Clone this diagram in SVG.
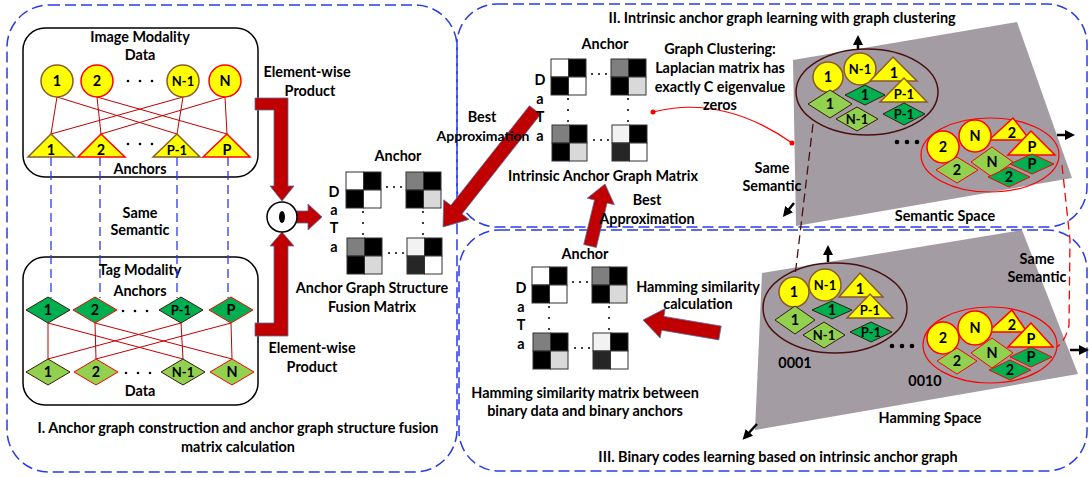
<svg xmlns="http://www.w3.org/2000/svg" xmlns:xlink="http://www.w3.org/1999/xlink" width="1091" height="478" viewBox="0 0 1091 478">
<style>
.t{font-family:Lato,'Liberation Sans',sans-serif;font-weight:bold;font-size:14.4px;fill:#000;text-anchor:middle}
.s{font-size:13px}
.panel{fill:none;stroke:#2a3be8;stroke-width:1.5;stroke-dasharray:11 5}
.box{fill:#fff;stroke:#000;stroke-width:1.5}
.ylb{fill:#ffff00;stroke:#8b5a2b;stroke-width:1.5}
.ylr{fill:#ffff00;stroke:#ff0000;stroke-width:1.5}
.dgb{fill:#00b050;stroke:#3a1a0a;stroke-width:1}
.dgr{fill:#00b050;stroke:#ff0000;stroke-width:1}
.lgb{fill:#92d050;stroke:#3a1a0a;stroke-width:1}
.lgr{fill:#92d050;stroke:#ff0000;stroke-width:1}
.edge{stroke:#c00000;stroke-width:1;fill:none}
.blue{stroke:#2a3be8;stroke-width:1.3;stroke-dasharray:9 5;fill:none}
.bar{fill:#c00000;stroke:#5470a0;stroke-width:0.8}
.plane{fill:#a39ca3}
.cb{fill:none;stroke:#4a1010;stroke-width:1.5}
.cr{fill:none;stroke:#ff0000;stroke-width:1.2}
.ax{stroke:#000;stroke-width:2.5;fill:none}
.dot{fill:#000}
</style>
<defs>
<marker id="ah" markerWidth="10" markerHeight="10" refX="5" refY="5" orient="auto" markerUnits="userSpaceOnUse"><path d="M0,0 L10,5 L0,10 Z" fill="#000"/></marker>
<g id="mat" stroke="#333" stroke-width="1">
<rect x="0" y="0" width="17.5" height="18" fill="#fff"/><rect x="17.5" y="0" width="17.5" height="18" fill="#000"/><rect x="0" y="18" width="17.5" height="18" fill="#000"/><rect x="17.5" y="18" width="17.5" height="18" fill="#fff"/>
<rect x="60" y="0" width="17.5" height="18" fill="#7f7f7f"/><rect x="77.5" y="0" width="17.5" height="18" fill="#000"/><rect x="60" y="18" width="17.5" height="18" fill="#000"/><rect x="77.5" y="18" width="17.5" height="18" fill="#d9d9d9"/>
<rect x="1" y="66" width="17.5" height="18" fill="#7f7f7f"/><rect x="18.5" y="66" width="17.5" height="18" fill="#000"/><rect x="1" y="84" width="17.5" height="18" fill="#000"/><rect x="18.5" y="84" width="17.5" height="18" fill="#d9d9d9"/>
<rect x="61" y="66" width="17.5" height="18" fill="#f2f2f2"/><rect x="78.5" y="66" width="17.5" height="18" fill="#000"/><rect x="61" y="84" width="17.5" height="18" fill="#262626"/><rect x="78.5" y="84" width="17.5" height="18" fill="#fff"/>
<g stroke="none" fill="#000">
<circle cx="41" cy="15" r="1"/><circle cx="48" cy="15" r="1"/><circle cx="55" cy="15" r="1"/>
<circle cx="43" cy="81" r="1"/><circle cx="50" cy="81" r="1"/><circle cx="57" cy="81" r="1"/>
<circle cx="17" cy="40" r="1"/><circle cx="17" cy="51" r="1"/><circle cx="17" cy="62" r="1"/>
<circle cx="77" cy="40" r="1"/><circle cx="77" cy="51" r="1"/><circle cx="77" cy="62" r="1"/>
</g>
</g>
</defs>
<rect width="1091" height="478" fill="#fff"/>

<g id="panels">
<rect class="panel" x="7" y="5" width="450" height="467" rx="42"/>
<rect class="panel" x="457" y="4" width="630" height="223" rx="40"/>
<rect class="panel" x="459" y="230" width="628" height="241" rx="40"/>
</g>

<!-- Panel I -->
<g id="image-modality">
<rect class="box" x="23" y="28" width="235" height="149" rx="22"/>
<text class="t" x="140" y="42">Image Modality</text>
<text class="t" x="140" y="60">Data</text>
<text class="t" x="140" y="174">Anchors</text>
</g>
<g id="tag-modality">
<rect class="box" x="23" y="257" width="235" height="148" rx="22"/>
<text class="t" x="140" y="275">Tag Modality</text>
<text class="t" x="140" y="296">Anchors</text>
<text class="t" x="140" y="396">Data</text>
</g>

<g id="connectors">
<line class="edge" x1="57" y1="97" x2="51" y2="134"/>
<line class="edge" x1="57" y1="97" x2="177" y2="134"/>
<line class="edge" x1="97" y1="97" x2="101" y2="134"/>
<line class="edge" x1="97" y1="97" x2="227" y2="134"/>
<line class="edge" x1="183" y1="97" x2="177" y2="134"/>
<line class="edge" x1="183" y1="97" x2="51" y2="134"/>
<line class="edge" x1="225" y1="97" x2="227" y2="134"/>
<line class="edge" x1="225" y1="97" x2="101" y2="134"/>
<line class="edge" x1="48" y1="323" x2="48" y2="359"/>
<line class="edge" x1="48" y1="323" x2="183" y2="359"/>
<line class="edge" x1="95" y1="323" x2="96" y2="359"/>
<line class="edge" x1="95" y1="323" x2="232" y2="359"/>
<line class="edge" x1="181" y1="323" x2="183" y2="359"/>
<line class="edge" x1="181" y1="323" x2="48" y2="359"/>
<line class="edge" x1="231" y1="323" x2="232" y2="359"/>
<line class="edge" x1="231" y1="323" x2="96" y2="359"/>
<line class="blue" x1="51" y1="157" x2="51" y2="298"/>
<line class="blue" x1="100" y1="157" x2="100" y2="298"/>
<line class="blue" x1="177" y1="157" x2="177" y2="298"/>
<line class="blue" x1="228" y1="157" x2="228" y2="298"/>
<polygon class="bar" points="255,98 288,98 288,186 294,186 282,201 270,186 274,186 274,110 255,110"/>
<polygon class="bar" points="255,336 288,336 288,246 294,246 282,232 270,246 274,246 274,323 255,323"/>
<polygon class="bar" points="296,211 308,211 308,204 322,217 308,230 308,223 296,223"/>
<polygon class="bar" points="540.6,114.3 462,213.9 469.1,219.4 443,227 443.7,199.8 450.9,205.3 529.4,105.7"/>
<polygon class="bar" points="596.3,247.5 607.1,203 614.4,204.8 605,184 587.2,198.2 594.5,200 583.7,244.5"/>
<polygon class="bar" points="721.2,326.1 663.9,316.4 665.2,308.5 643,320 660.2,338.1 661.5,330.2 718.8,339.9"/>
<path d="M653,112 C700,100 745,110 792,143" fill="none" stroke="#ff0000" stroke-width="1.2"/>
<circle cx="653" cy="112" r="2.5" fill="#ff0000"/>
<circle cx="792" cy="143" r="2.5" fill="#ff0000"/>
</g>

<g id="image-data">
<circle class="ylb" cx="57" cy="81" r="16"/><text class="t" x="57" y="86">1</text>
<circle class="ylr" cx="97" cy="81" r="16"/><text class="t" x="97" y="86">2</text>
<circle class="ylb" cx="183" cy="81" r="16"/><text class="t s" x="183" y="86">N-1</text>
<circle class="ylr" cx="225" cy="81" r="16"/><text class="t" x="225" y="86">N</text>
<circle class="dot" cx="128" cy="81" r="1.3"/><circle class="dot" cx="140" cy="81" r="1.3"/><circle class="dot" cx="152" cy="81" r="1.3"/>
</g>
<g id="image-anchors">
<polygon class="ylb" points="28,157 75,157 51,134"/><text class="t" x="51" y="155">1</text>
<polygon class="ylr" points="78,157 125,157 101,134"/><text class="t" x="101" y="155">2</text>
<polygon class="ylb" points="153,157 200,157 177,134"/><text class="t s" x="177" y="155">P-1</text>
<polygon class="ylr" points="203,157 250,157 227,134"/><text class="t" x="227" y="155">P</text>
<circle class="dot" cx="128" cy="144" r="1.3"/><circle class="dot" cx="140" cy="144" r="1.3"/><circle class="dot" cx="152" cy="144" r="1.3"/>
</g>
<g id="tag-anchors">
<polygon class="dgb" points="26,310 48,297 70,310 48,323"/><text class="t" x="48" y="315">1</text>
<polygon class="dgr" points="73,310 95,297 117,310 95,323"/><text class="t" x="95" y="315">2</text>
<polygon class="dgb" points="159,310 181,297 203,310 181,323"/><text class="t s" x="181" y="315">P-1</text>
<polygon class="dgr" points="209,310 231,297 253,310 231,323"/><text class="t" x="231" y="315">P</text>
<circle class="dot" cx="123" cy="311" r="1.3"/><circle class="dot" cx="135" cy="311" r="1.3"/><circle class="dot" cx="147" cy="311" r="1.3"/>
</g>
<g id="tag-data">
<polygon class="lgb" points="26,372 48,359 70,372 48,385"/><text class="t" x="48" y="377">1</text>
<polygon class="lgr" points="74,372 96,359 118,372 96,385"/><text class="t" x="96" y="377">2</text>
<polygon class="lgb" points="161,372 183,359 205,372 183,385"/><text class="t s" x="183" y="377">N-1</text>
<polygon class="lgr" points="210,372 232,359 254,372 232,385"/><text class="t" x="232" y="377">N</text>
<circle class="dot" cx="126" cy="373" r="1.3"/><circle class="dot" cx="138" cy="373" r="1.3"/><circle class="dot" cx="150" cy="373" r="1.3"/>
</g>
<g id="labels-I">
<text class="t" x="140" y="218">Same</text>
<text class="t" x="140" y="235">Semantic</text>
<text class="t" x="307" y="77">Element-wise</text>
<text class="t" x="310" y="96">Product</text>
<text class="t" x="312" y="353">Element-wise</text>
<text class="t" x="312" y="372">Product</text>
<text class="t" x="238" y="433">I. Anchor graph construction and anchor graph structure fusion</text>
<text class="t" x="238" y="452">matrix calculation</text>
</g>
<g id="elementwise-op">
<circle cx="282" cy="217" r="15" fill="#fff" stroke="#000" stroke-width="1.5"/>
<ellipse cx="282" cy="217" rx="3" ry="6" fill="#000"/>
</g>
<g id="fusion-matrix">
<use xlink:href="#mat" href="#mat" x="346" y="172"/>
<text class="t" x="398" y="161">Anchor</text>
<text class="t" x="334" y="197">D</text><text class="t" x="334" y="215">a</text><text class="t" x="334" y="233">T</text><text class="t" x="334" y="252">a</text>
<text class="t" x="372" y="293">Anchor Graph Structure</text>
<text class="t" x="372" y="312">Fusion  Matrix</text>
</g>

<g id="labels-II">
<text class="t" x="482" y="122">Best</text>
<text class="t" x="483" y="141" font-size="14" style="font-size:14px">Approximation</text>
<text class="t" x="782" y="23">II. Intrinsic anchor graph learning with graph clustering</text>
<text class="t" x="720" y="54">Graph Clustering:</text>
<text class="t" x="720" y="73">Laplacian matrix has</text>
<text class="t" x="720" y="92">exactly C eigenvalue</text>
<text class="t" x="720" y="110">zeros</text>
<text class="t" x="647" y="205">Best</text>
<text class="t" x="647" y="224">Approximation</text>
</g>
<g id="intrinsic-matrix">
<use xlink:href="#mat" href="#mat" x="551" y="59"/>
<text class="t" x="605" y="49">Anchor</text>
<text class="t" x="540" y="85">D</text><text class="t" x="540" y="104">a</text><text class="t" x="540" y="122">T</text><text class="t" x="540" y="141">a</text>
<text class="t" x="603" y="181">Intrinsic Anchor Graph Matrix</text>
</g>
<g id="semantic-space">
<polygon class="plane" points="793,60 1017,22 1072,178 796,226"/>
<line class="ax" x1="858" y1="50" x2="858" y2="40" marker-end="url(#ah)"/>
<line class="ax" x1="1057" y1="135" x2="1070" y2="135" marker-end="url(#ah)"/>
<line class="ax" x1="794" y1="203" x2="786" y2="213" marker-end="url(#ah)"/>
<text class="t" x="945" y="221">Semantic Space</text>
<text class="t" x="772" y="173">Same</text>
<text class="t" x="772" y="191">Semantic</text>
</g>
<g id="semantic-cluster-1">
<ellipse class="cb" cx="867" cy="92" rx="71" ry="43"/>
<circle class="ylb" cx="828" cy="77" r="15"/><text class="t" x="828" y="82">1</text>
<circle class="ylb" cx="860" cy="69" r="16"/><text class="t s" x="860" y="74">N-1</text>
<polygon class="ylb" points="870,81 917,81 893,57"/><text class="t" x="894" y="78">1</text>
<polygon class="dgb" points="845,95 865,85 885,95 865,105"/><text class="t" x="865" y="100">1</text>
<polygon class="ylb" points="880,102 927,102 904,78"/><text class="t s" x="904" y="99">P-1</text>
<polygon class="lgb" points="808,104 830,90 852,104 830,118"/><text class="t" x="830" y="109">1</text>
<polygon class="lgb" points="836,119 857,107 878,119 857,131"/><text class="t s" x="857" y="124">N-1</text>
<polygon class="dgb" points="883,114 904,103 925,114 904,125"/><text class="t s" x="904" y="119">P-1</text>
</g>
<g id="semantic-cluster-2">
<ellipse class="cr" cx="990" cy="155" rx="69" ry="37"/>
<circle class="ylr" cx="943" cy="147" r="16"/><text class="t" x="943" y="152">2</text>
<polygon class="ylr" points="989,140 1030,140 1013,118"/><text class="t" x="1012" y="138">2</text>
<circle class="ylr" cx="975" cy="136" r="16"/><text class="t" x="975" y="141">N</text>
<polygon class="ylr" points="1008,155 1055,155 1031,131"/><text class="t" x="1032" y="152">P</text>
<polygon class="lgr" points="936,170 957,157 978,170 957,183"/><text class="t" x="957" y="175">2</text>
<polygon class="lgr" points="971,162 992,147 1013,162 992,177"/><text class="t" x="992" y="167">N</text>
<polygon class="dgr" points="1010,164 1032,154 1054,164 1032,174"/><text class="t" x="1032" y="169">P</text>
<polygon class="dgr" points="988,177 1009,167 1030,177 1009,187"/><text class="t" x="1009" y="182">2</text>
</g>
<g id="semantic-dots">
<circle class="dot" cx="897" cy="142" r="2.3"/><circle class="dot" cx="907" cy="142" r="2.3"/><circle class="dot" cx="917" cy="142" r="2.3"/>
</g>

<g id="hamming-matrix">
<use xlink:href="#mat" href="#mat" x="532" y="267"/>
<text class="t" x="585" y="259">Anchor</text>
<text class="t" x="521" y="293">D</text><text class="t" x="521" y="312">a</text><text class="t" x="521" y="330">T</text><text class="t" x="521" y="349">a</text>
<text class="t" x="585" y="398">Hamming similarity matrix between</text>
<text class="t" x="585" y="416">binary data and binary anchors</text>
<text class="t" x="698" y="292">Hamming similarity</text>
<text class="t" x="698" y="309">calculation</text>
</g>
<g id="hamming-space">
<polygon class="plane" points="762,273 1022,230 1078,374 755,430"/>
<line class="ax" x1="828" y1="262" x2="828" y2="250" marker-end="url(#ah)"/>
<line class="ax" x1="1070" y1="350" x2="1084" y2="350" marker-end="url(#ah)"/>
<line class="ax" x1="757" y1="424" x2="746" y2="436" marker-end="url(#ah)"/>
<text class="t" x="930" y="423">Hamming Space</text>
<text class="t" x="1037" y="264">Same</text>
<text class="t" x="1037" y="282">Semantic</text>
<text class="t" x="795" y="368">0001</text>
<text class="t" x="925" y="386">0010</text>
<text class="t" x="778" y="462">III. Binary codes learning based on intrinsic anchor graph</text>
</g>
<g id="hamming-cluster-1">
<ellipse class="cb" cx="835" cy="308" rx="72" ry="45"/>
<circle class="ylb" cx="794" cy="292" r="15"/><text class="t" x="794" y="297">1</text>
<circle class="ylb" cx="825" cy="285" r="16"/><text class="t s" x="825" y="290">N-1</text>
<polygon class="ylb" points="839,297 883,297 860,273"/><text class="t" x="860" y="294">1</text>
<polygon class="dgb" points="812,310 832,301 852,310 832,319"/><text class="t" x="832" y="315">1</text>
<polygon class="ylb" points="847,318 893,318 870,294"/><text class="t s" x="870" y="315">P-1</text>
<polygon class="lgb" points="775,320 795,306 815,320 795,334"/><text class="t" x="795" y="325">1</text>
<polygon class="lgb" points="803,335 824,322 845,335 824,348"/><text class="t s" x="824" y="340">N-1</text>
<polygon class="dgb" points="850,332 871,322 892,332 871,342"/><text class="t s" x="871" y="337">P-1</text>
</g>
<g id="hamming-cluster-2">
<ellipse class="cr" cx="990" cy="345" rx="67" ry="38"/>
<circle class="ylr" cx="943" cy="338" r="16"/><text class="t" x="943" y="343">2</text>
<polygon class="ylr" points="988,332 1027,332 1012,310"/><text class="t" x="1012" y="330">2</text>
<circle class="ylr" cx="975" cy="328" r="17"/><text class="t" x="975" y="333">N</text>
<polygon class="ylr" points="1008,347 1053,347 1031,323"/><text class="t" x="1031" y="344">P</text>
<polygon class="lgr" points="937,361 957,348 977,361 957,374"/><text class="t" x="957" y="366">2</text>
<polygon class="lgr" points="971,353 992,338 1013,353 992,368"/><text class="t" x="992" y="358">N</text>
<polygon class="dgr" points="1010,357 1031,347 1052,357 1031,367"/><text class="t" x="1031" y="362">P</text>
<polygon class="dgr" points="989,370 1010,360 1031,370 1010,380"/><text class="t" x="1010" y="375">2</text>
</g>
<g id="hamming-dots">
<circle class="dot" cx="892" cy="346" r="2.3"/><circle class="dot" cx="902" cy="346" r="2.3"/><circle class="dot" cx="912" cy="346" r="2.3"/>
</g>
<g id="cross-links">
<line x1="813" y1="124" x2="795" y2="276" stroke="#4a1010" stroke-width="1.3" stroke-dasharray="9 5"/>
<path d="M1062,165 L1070,240 L1069,325 Q1066,340 1057,347" fill="none" stroke="#ff0000" stroke-width="1.3" stroke-dasharray="9 5"/>
</g>
</svg>
